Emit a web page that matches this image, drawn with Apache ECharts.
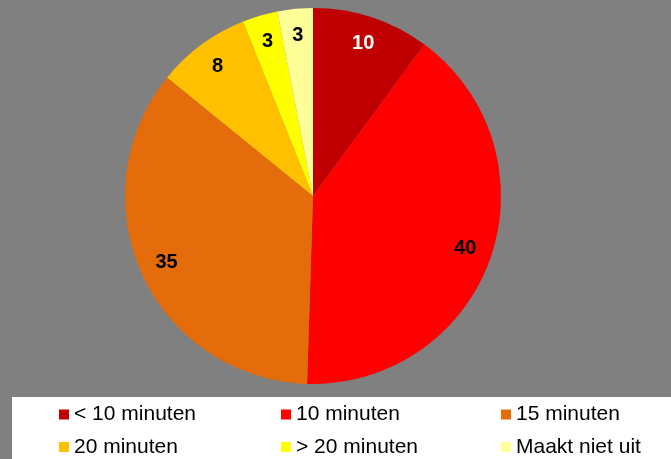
<!DOCTYPE html>
<html>
<head>
<meta charset="utf-8">
<script src="https://cdn.jsdelivr.net/npm/echarts@6/dist/echarts.min.js"></script>
<style>
html,body{margin:0;padding:0;background:#808080;}
#c{width:671px;height:459px;}
</style>
</head>
<body>
<div id="c"></div>
<script>
var categories = ['< 10 minuten', '10 minuten', '15 minuten', '20 minuten', '> 20 minuten', 'Maakt niet uit'];
var values = [10, 40, 35, 8, 3, 3];
var colors = ['#C00000', '#FF0000', '#E46C0A', '#FFC000', '#FFFF00', '#FFFF99'];
var labelColors = ['#FFFFFF', '#000000', '#000000', '#000000', '#000000', '#000000'];

var chart = echarts.init(document.getElementById('c'), null, {renderer: 'canvas'});

var mainData = categories.map(function (n, i) {
  return {name: n, value: values[i], itemStyle: {color: colors[i]}};
});
var labelData = categories.map(function (n, i) {
  return {name: n, value: values[i], label: {color: labelColors[i]}};
});

function legendCol(items, left) {
  return {
    data: items,
    orient: 'vertical',
    left: left,
    top: 404,
    icon: 'rect',
    itemWidth: 10,
    itemHeight: 10,
    itemGap: 11.5,
    padding: 0,
    selectedMode: false,
    textStyle: {fontFamily: 'Liberation Sans, Arial, sans-serif', fontSize: 21, color: '#000', lineHeight: 20}
  };
}

chart.setOption({
  backgroundColor: '#808080',
  animation: false,
  graphic: [{
    type: 'rect',
    left: 12,
    top: 397,
    shape: {width: 659, height: 62},
    style: {fill: '#FFFFFF'},
    silent: true,
    z: -1
  }],
  legend: [
    legendCol([categories[0], categories[3]], 59),
    legendCol([categories[1], categories[4]], 281),
    legendCol([categories[2], categories[5]], 501)
  ],
  series: [
    {
      type: 'pie',
      center: [313, 196],
      radius: [0, 188],
      startAngle: 90,
      clockwise: true,
      silent: true,
      label: {show: false},
      labelLine: {show: false},
      data: mainData
    },
    {
      type: 'pie',
      center: [313, 196],
      radius: [128, 188],
      startAngle: 90,
      clockwise: true,
      silent: true,
      itemStyle: {color: 'rgba(0,0,0,0)'},
      label: {
        show: true,
        position: 'inside',
        formatter: '{c}',
        fontFamily: 'Liberation Sans, Arial, sans-serif',
        fontWeight: 'bold',
        fontSize: 20
      },
      labelLine: {show: false},
      data: labelData
    }
  ]
});
</script>
</body>
</html>
